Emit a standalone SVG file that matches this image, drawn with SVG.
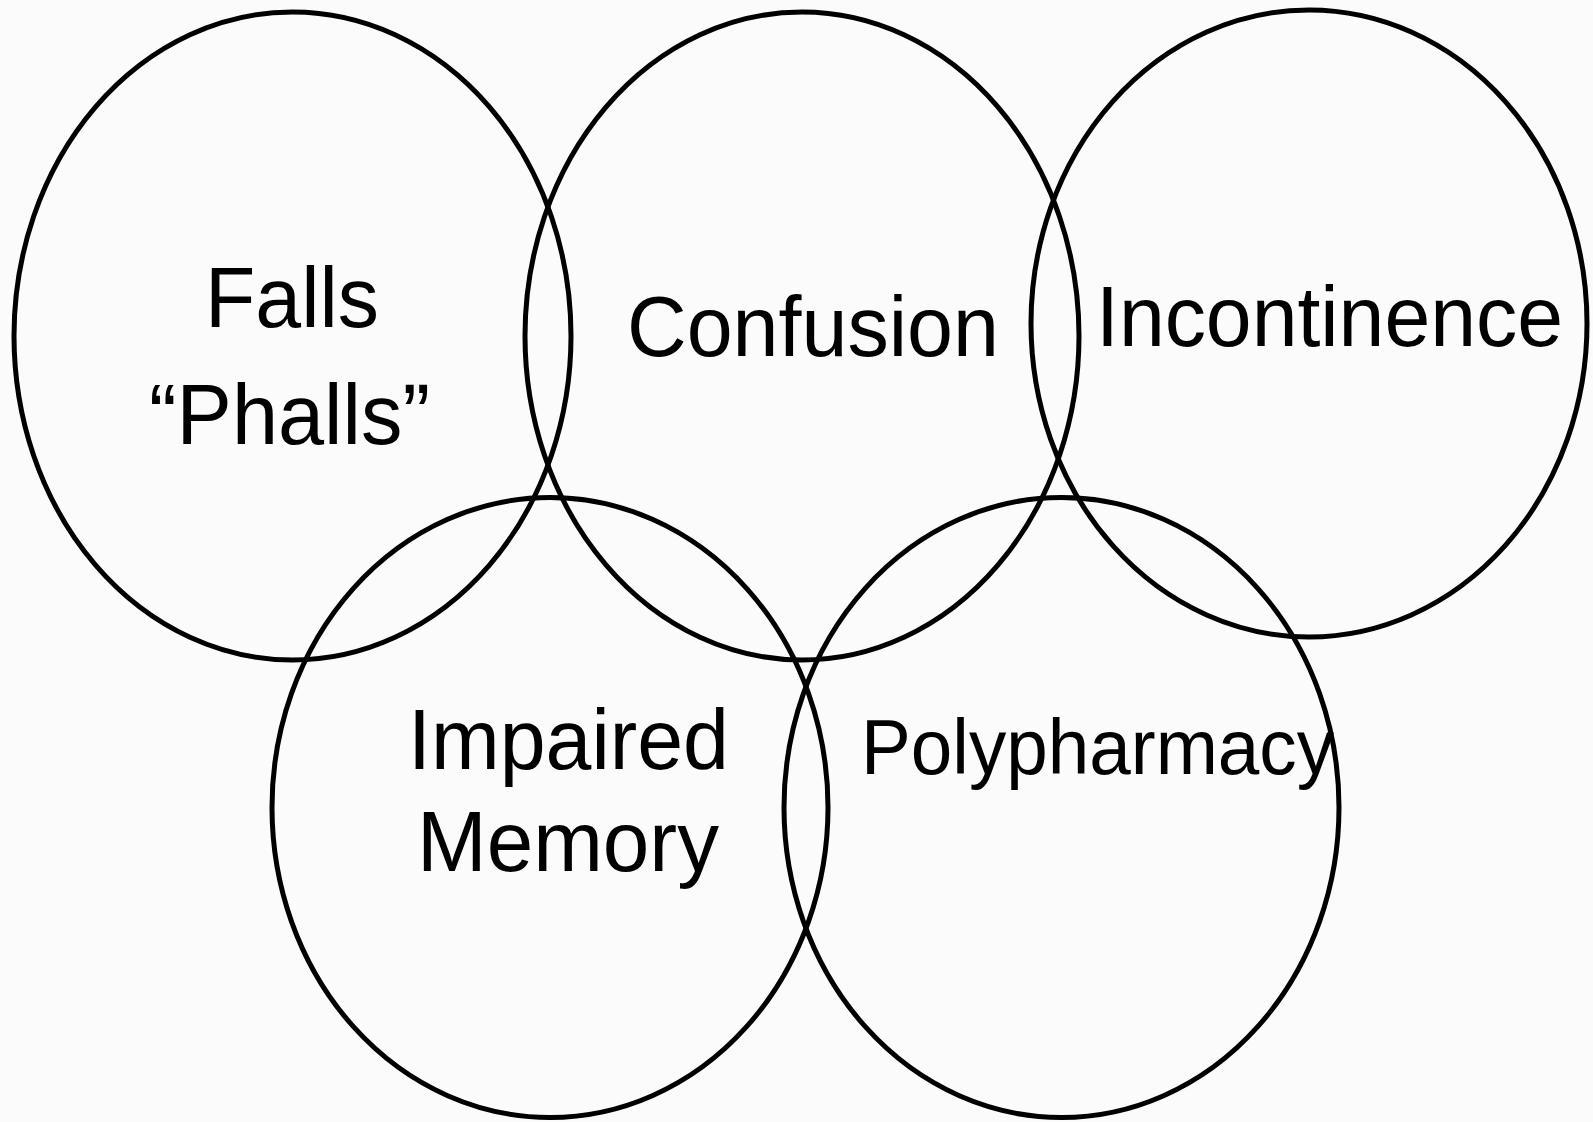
<svg xmlns="http://www.w3.org/2000/svg" width="1593" height="1122" viewBox="0 0 1593 1122">
  <style>
    .ring { fill: none; stroke: #000; stroke-width: 5; }
    .label { font-family: "Liberation Sans", Arial, sans-serif; font-size: 86px; fill: #000; text-anchor: middle; }
  </style>
  <rect x="0" y="0" width="1593" height="1122" fill="#fbfbfb"/>
  <g id="connectors"></g>
  <g id="falls">
    <ellipse class="ring" cx="292.5" cy="336" rx="278.5" ry="324"/>
    <text class="label" x="292" y="327" textLength="174" lengthAdjust="spacingAndGlyphs">Falls</text>
    <text class="label" x="289.5" y="444" textLength="281" lengthAdjust="spacingAndGlyphs">“Phalls”</text>
  </g>
  <g id="confusion">
    <ellipse class="ring" cx="802" cy="336" rx="277" ry="324"/>
    <text class="label" x="813" y="356" textLength="372" lengthAdjust="spacingAndGlyphs">Confusion</text>
  </g>
  <g id="incontinence">
    <ellipse class="ring" cx="1309" cy="323.5" rx="278" ry="313.5"/>
    <text class="label" x="1329.5" y="345.5" textLength="467" lengthAdjust="spacingAndGlyphs">Incontinence</text>
  </g>
  <g id="impaired-memory">
    <ellipse class="ring" cx="550" cy="807.5" rx="278" ry="310"/>
    <text class="label" x="568.5" y="769" textLength="321" lengthAdjust="spacingAndGlyphs">Impaired</text>
    <text class="label" x="568" y="871" textLength="302" lengthAdjust="spacingAndGlyphs">Memory</text>
  </g>
  <g id="polypharmacy">
    <ellipse class="ring" cx="1061.5" cy="807.5" rx="277.5" ry="310"/>
    <text class="label" x="1097.5" y="774" style="font-size:78px" textLength="473" lengthAdjust="spacingAndGlyphs">Polypharmacy</text>
  </g>
</svg>
